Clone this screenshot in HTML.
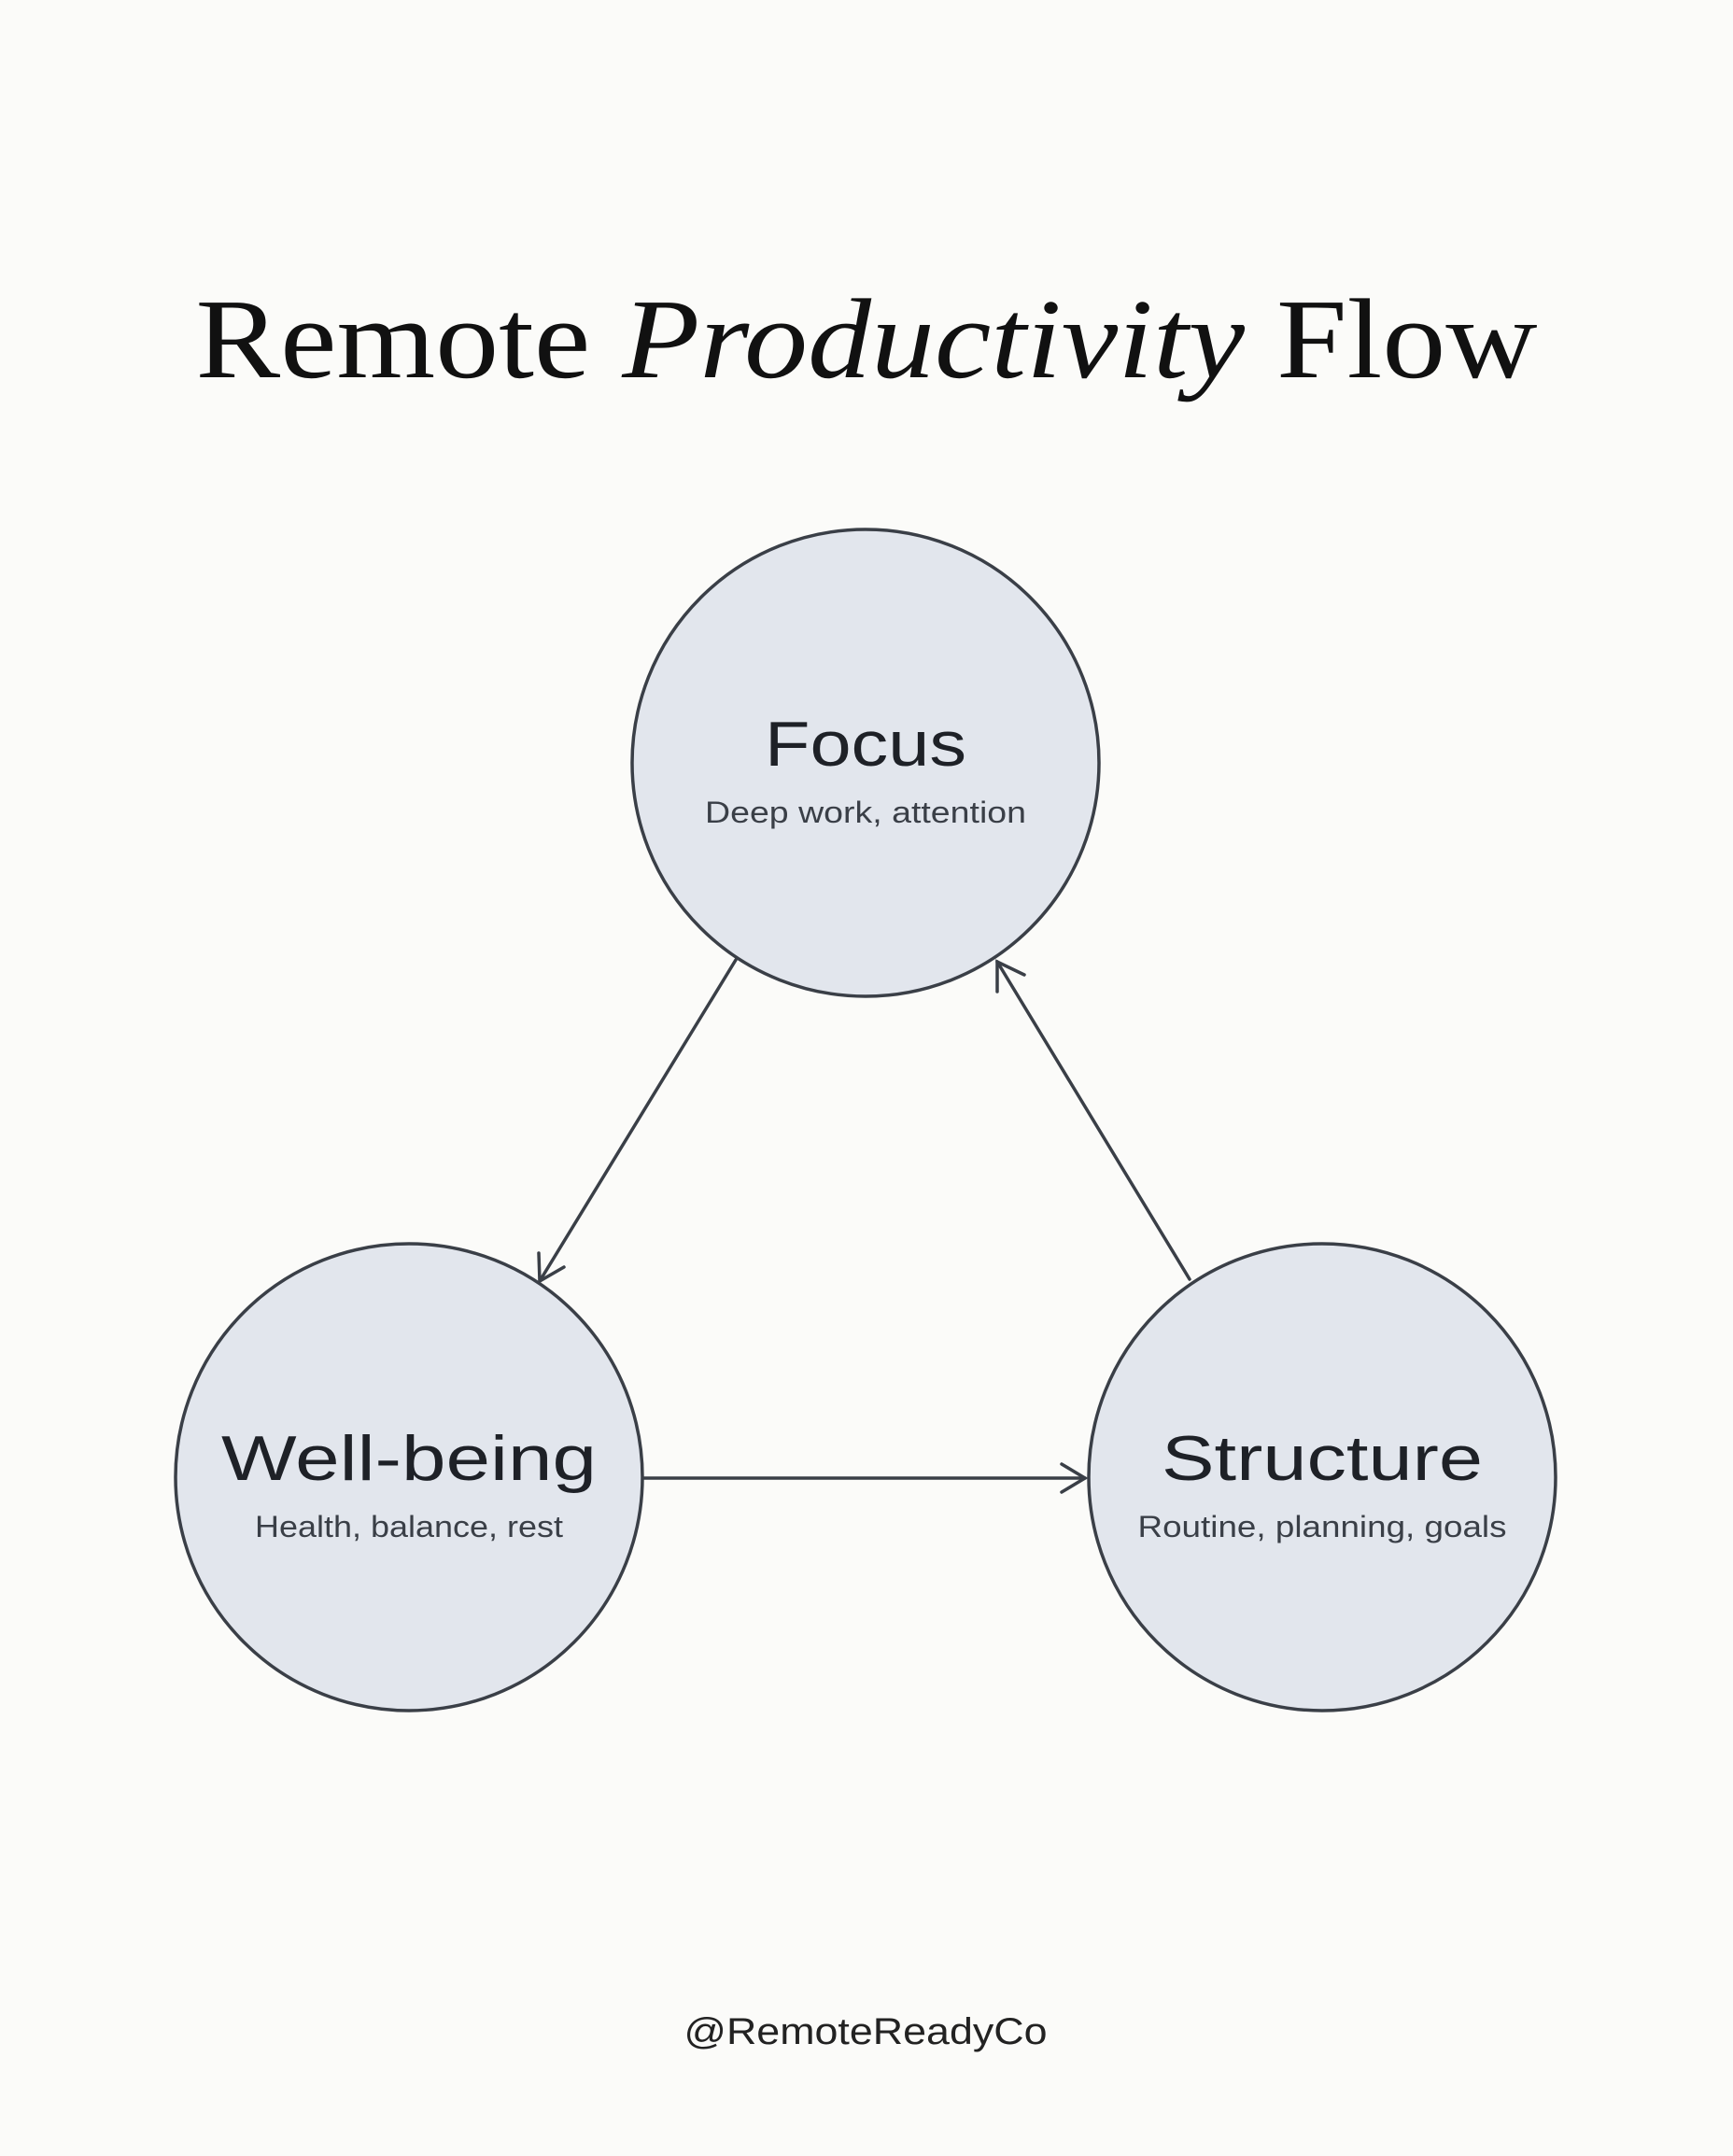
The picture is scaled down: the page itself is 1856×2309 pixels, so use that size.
<!DOCTYPE html>
<html><head><meta charset="utf-8"><style>
html,body{margin:0;padding:0;background:#fbfbf9;}
</style></head><body>
<svg width="1856" height="2304" viewBox="0 0 1856 2304" xmlns="http://www.w3.org/2000/svg">
<rect width="1856" height="2304" fill="#fbfbf9"/>
<text x="928" y="404" text-anchor="middle" font-family="Liberation Serif, serif" font-size="122" fill="#111" textLength="1437" lengthAdjust="spacingAndGlyphs">Remote <tspan font-style="italic">Productivity</tspan> Flow</text>
<g fill="#e2e6ed" stroke="#3a3f47" stroke-width="3.5">
<circle cx="927" cy="817" r="250"/>
<circle cx="438" cy="1582" r="250"/>
<circle cx="1416" cy="1582" r="250"/>
</g>
<g stroke="#3a3f47" stroke-width="3.5" fill="none" stroke-linecap="round">
<line x1="788" y1="1028" x2="578" y2="1372"/>
<polyline points="577,1342 578,1372 604,1357"/>
<line x1="1274" y1="1370" x2="1068" y2="1030"/>
<polyline points="1068,1062 1068,1030 1097,1044"/>
<line x1="690" y1="1583" x2="1162" y2="1583"/>
<polyline points="1137,1568 1162,1583 1137,1598"/>
</g>
<g font-family="Liberation Sans, sans-serif" text-anchor="middle" fill="#1e2127">
<text x="927" y="820" font-size="68" textLength="216" lengthAdjust="spacingAndGlyphs">Focus</text>
<text x="927" y="881" font-size="32" fill="#3a3f47" textLength="344" lengthAdjust="spacingAndGlyphs">Deep work, attention</text>
<text x="438" y="1585" font-size="68" textLength="402" lengthAdjust="spacingAndGlyphs">Well-being</text>
<text x="438" y="1646" font-size="32" fill="#3a3f47" textLength="330" lengthAdjust="spacingAndGlyphs">Health, balance, rest</text>
<text x="1416" y="1585" font-size="68" textLength="344" lengthAdjust="spacingAndGlyphs">Structure</text>
<text x="1416" y="1646" font-size="32" fill="#3a3f47" textLength="395" lengthAdjust="spacingAndGlyphs">Routine, planning, goals</text>
<text x="927" y="2189" font-size="40" fill="#222" textLength="389" lengthAdjust="spacingAndGlyphs">@RemoteReadyCo</text>
</g>
</svg>
</body></html>
